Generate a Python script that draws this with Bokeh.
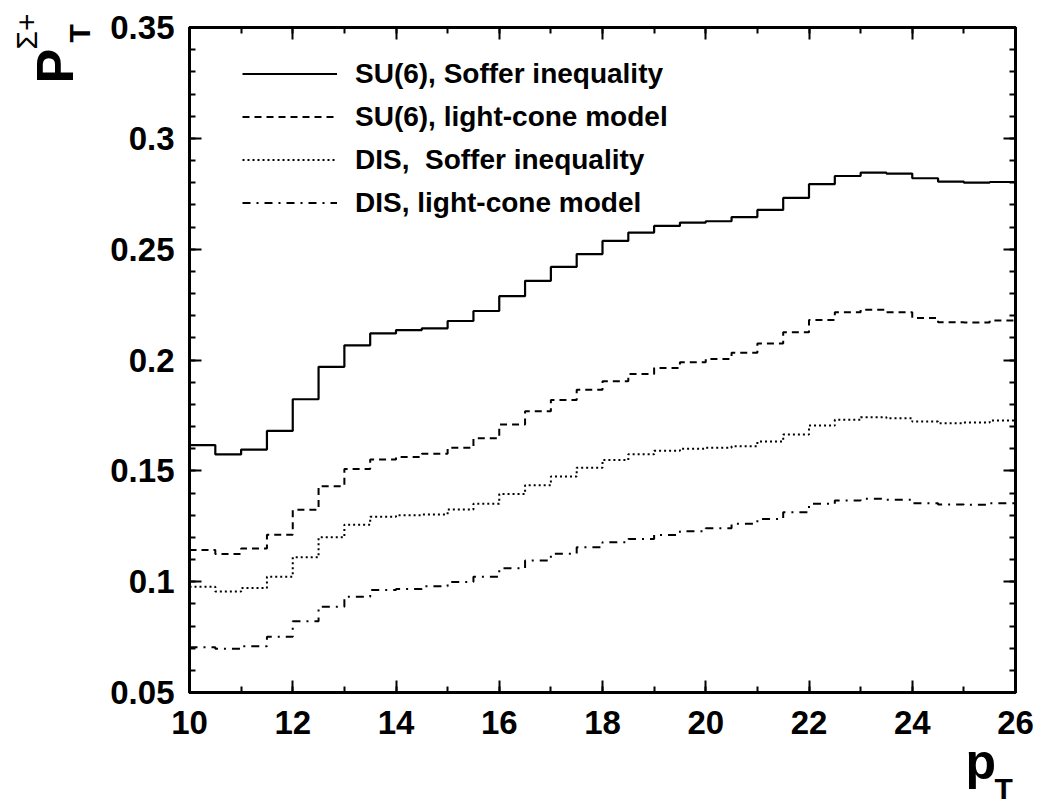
import numpy as np
from bokeh.plotting import figure
from bokeh.models import (Range1d, LinearAxis, FixedTicker, CustomJSTickFormatter,
                          Title, ColumnDataSource)
from bokeh.embed import file_html
from bokeh.resources import INLINE

# ---- data (histograms, 0.5-wide bins from 10 to 26) ----
bin_lo, bin_hi, bin_w = 10.0, 26.0, 0.5

su6_soffer = [0.1616, 0.1574, 0.1596, 0.1680, 0.1823, 0.1969, 0.2066, 0.2120,
              0.2135, 0.2143, 0.2176, 0.2221, 0.2288, 0.2357, 0.2420, 0.2478,
              0.2537, 0.2575, 0.2605, 0.2620, 0.2626, 0.2645, 0.2677, 0.2731,
              0.2793, 0.2830, 0.2845, 0.2841, 0.2820, 0.2805, 0.2800, 0.2803]
su6_lightcone = [0.1143, 0.1125, 0.1150, 0.1212, 0.1324, 0.1431, 0.1508, 0.1551,
                 0.1562, 0.1577, 0.1604, 0.1647, 0.1709, 0.1769, 0.1820, 0.1866,
                 0.1904, 0.1937, 0.1964, 0.1990, 0.2005, 0.2033, 0.2075, 0.2125,
                 0.2181, 0.2215, 0.2227, 0.2215, 0.2190, 0.2170, 0.2169, 0.2178]
dis_soffer = [0.0977, 0.0956, 0.0971, 0.1022, 0.1110, 0.1200, 0.1257, 0.1293,
              0.1300, 0.1303, 0.1326, 0.1351, 0.1395, 0.1435, 0.1474, 0.1514,
              0.1549, 0.1575, 0.1591, 0.1600, 0.1604, 0.1611, 0.1632, 0.1664,
              0.1704, 0.1730, 0.1742, 0.1737, 0.1722, 0.1715, 0.1718, 0.1727]
dis_lightcone = [0.0704, 0.0697, 0.0709, 0.0752, 0.0821, 0.0887, 0.0932, 0.0962,
                 0.0967, 0.0979, 0.0998, 0.1022, 0.1060, 0.1095, 0.1126, 0.1155,
                 0.1178, 0.1193, 0.1211, 0.1227, 0.1241, 0.1261, 0.1283, 0.1313,
                 0.1351, 0.1366, 0.1374, 0.1369, 0.1354, 0.1348, 0.1347, 0.1354]

series_labels = ["SU(6), Soffer inequality", "SU(6), light-cone model",
                 "DIS,  Soffer inequality", "DIS, light-cone model"]

y_major = [0.05, 0.1, 0.15, 0.2, 0.25, 0.3, 0.35]
y_minor = [round(0.05 + 0.01 * i, 2) for i in range(31)]
x_major = [10, 12, 14, 16, 18, 20, 22, 24, 26]
x_minor = list(range(10, 27))

FONT = "Liberation Sans"

p = figure(width=1042, height=804, x_range=Range1d(10, 26), y_range=Range1d(0.05, 0.35),
           output_backend="svg", toolbar_location=None, title=None,
           min_border_left=189, min_border_right=27, min_border_top=27, min_border_bottom=112)
p.grid.visible = False
p.outline_line_color = "black"
p.outline_line_width = 3
p.background_fill_color = "white"
p.border_fill_color = "white"

edges = np.arange(bin_lo, bin_hi + bin_w / 2, bin_w)

styles = [dict(line_dash="solid", line_width=2.2),
          dict(line_dash="7 5", line_width=2),
          dict(line_dash="2 3", line_width=2),
          dict(line_dash="8 6 2 6", line_width=2)]

for vals, lab, st in zip([su6_soffer, su6_lightcone, dis_soffer, dis_lightcone], series_labels, styles):
    src = ColumnDataSource(dict(x=edges, y=list(vals) + [vals[-1]]))
    p.step(x="x", y="y", source=src, mode="after", line_color="black",
           legend_label=lab, **st)

def style_axis(ax):
    ax.axis_line_width = 3
    ax.axis_line_color = "black"
    ax.major_tick_in = 12
    ax.major_tick_out = 0
    ax.minor_tick_in = 6
    ax.minor_tick_out = 0
    ax.major_tick_line_width = 2
    ax.minor_tick_line_width = 2
    ax.major_label_text_font = FONT
    ax.major_label_text_font_style = "bold"
    ax.major_label_text_color = "black"
    ax.major_label_text_font_size = "33px"

fmt = CustomJSTickFormatter(code="return parseFloat(tick.toFixed(2)).toString();")
blank = CustomJSTickFormatter(code="return '';")

p.xaxis.ticker = FixedTicker(ticks=x_major, minor_ticks=x_minor)
p.yaxis.ticker = FixedTicker(ticks=y_major, minor_ticks=y_minor)
p.yaxis.formatter = fmt
for ax in p.xaxis:
    style_axis(ax)
    ax.major_label_standoff = 18
for ax in p.yaxis:
    style_axis(ax)
    ax.major_label_standoff = 15

top = LinearAxis(ticker=FixedTicker(ticks=x_major, minor_ticks=x_minor), formatter=blank)
style_axis(top)
top.major_label_standoff = 0
p.add_layout(top, "above")
right = LinearAxis(ticker=FixedTicker(ticks=y_major, minor_ticks=y_minor), formatter=blank)
style_axis(right)
right.major_label_standoff = 0
p.add_layout(right, "right")

# legend
lg = p.legend[0]
lg.location = (53, 472)
lg.border_line_color = None
lg.background_fill_alpha = 0
lg.padding = 0
lg.margin = 0
lg.spacing = 8
lg.glyph_width = 95
lg.glyph_height = 35
lg.label_height = 35
lg.label_standoff = 18
lg.label_text_font = FONT
lg.label_text_font_style = "bold"
lg.label_text_font_size = "28px"
lg.label_text_color = "black"

# axis titles (side-panel titles; stacked outward from the frame)
def title(side, text, size, valign, standoff, offset, style="bold"):
    p.add_layout(Title(text=text, text_font=FONT, text_font_style=style,
                       text_font_size=size, text_color="black", align="left",
                       vertical_align=valign, standoff=standoff, offset=offset), side)

# y title: P_T^{Σ+}
title("left", "T", "30px", "top", 19, 650)
title("left", "P", "52px", "bottom", -60, 609)
title("left", "Σ+", "30px", "top", 17, 643, style="normal")
# x title: p_T
title("below", "p", "50px", "bottom", -10, 776)
title("below", "T", "30px", "bottom", -29, 805)

open("out.html", "w").write(file_html(p, INLINE))
